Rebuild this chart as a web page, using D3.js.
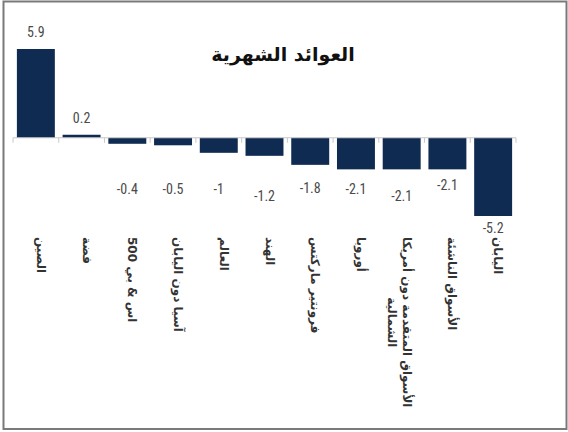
<!DOCTYPE html>
<html>
<head>
<meta charset="utf-8">
<script src="https://cdn.jsdelivr.net/npm/d3@7"></script>
<style>
  body { margin: 0; background: #fff; }
  svg { display: block; }
</style>
</head>
<body>
<svg id="chart" width="568" height="432"></svg>
<script>
// البيانات
const categories = ['الصين', 'فضة', 'اس & بي 500', 'آسيا دون اليابان', 'العالم', 'الهند',
  'فرونتير ماركتس', 'أوروبا', 'الأسواق المتقدمة دون أمريكا|الشمالية', 'الأسواق الناشئة', 'اليابان']
const values = [5.9, 0.2, -0.4, -0.5, -1, -1.2, -1.8, -2.1, -2.1, -2.1, -5.2]
const title = 'العوائد الشهرية'

const svg = d3.select('#chart')
const width = 568

// الإطار
svg.append('rect')
  .attr('x', 3.5).attr('y', 1.5)
  .attr('width', width - 5).attr('height', 427.5)
  .attr('fill', 'none')
  .attr('stroke', '#7a7a7a')
  .attr('stroke-width', 2)

const x = d3.scaleBand()
  .domain(categories)
  .range([13, 516])
  .paddingInner(0.17)
  .paddingOuter(0.085)

const y = d3.scaleLinear()
  .domain([-5.2, 5.9])
  .range([216, 49])

const barColor = '#0f2b52'

// الأعمدة
svg.selectAll('rect.bar')
  .data(values)
  .enter().append('rect')
  .attr('class', 'bar')
  .attr('x', (d, i) => x(categories[i]))
  .attr('y', d => y(Math.max(0, d)))
  .attr('width', x.bandwidth())
  .attr('height', d => Math.abs(y(d) - y(0)))
  .attr('fill', barColor)

// المحور
const axisY = y(0)
svg.append('line')
  .attr('x1', 13).attr('x2', 516)
  .attr('y1', axisY).attr('y2', axisY)
  .attr('stroke', '#c8c8c8')
  .attr('stroke-width', 1)

const tickXs = categories.map(c => x(c) - x.step() * x.paddingInner() / 2)
tickXs.push(516)
svg.selectAll('line.tick')
  .data(tickXs)
  .enter().append('line')
  .attr('class', 'tick')
  .attr('x1', d => d).attr('x2', d => d)
  .attr('y1', axisY).attr('y2', axisY + 5)
  .attr('stroke', '#c8c8c8')

// قيم الأعمدة
const labelOffsets = [0, 0, 0, 0, 0, 7, -1, 0, 7, -4, 0]
svg.selectAll('text.value')
  .data(values)
  .enter().append('text')
  .attr('class', 'value')
  .attr('x', (d, i) => x(categories[i]) + x.bandwidth() / 2)
  .attr('y', (d, i) => d >= 0 ? y(d) - 12 : y(Math.min(d, -2.1)) + 25 + labelOffsets[i] - (d < -2.1 ? 8 : 0))
  .attr('text-anchor', 'middle')
  .attr('font-family', '"Liberation Sans Narrow", "Roboto", sans-serif')
  .attr('font-stretch', 'condensed')
  .attr('font-size', '14px')
  .attr('fill', '#4a4a4a')
  .text(d => d)

// أسماء الفئات
const labelGroups = svg.selectAll('g.cat')
  .data(categories)
  .enter().append('g')
  .attr('class', 'cat')
  .attr('transform', d => `translate(${x(d) + x.bandwidth() / 2 + 1}, 237) rotate(90)`)

labelGroups.each(function (d) {
  const lines = d.split('|')
  const g = d3.select(this)
  const first = g.append('text')
    .attr('x', 0)
    .attr('y', 0)
    .attr('font-family', '"DejaVu Sans", sans-serif')
    .attr('font-weight', 'bold')
    .attr('font-size', '12px')
    .attr('fill', '#333')
    .text(lines[0])
  if (lines.length > 1) {
    const w = first.node().getComputedTextLength()
    g.append('text')
      .attr('x', w / 2)
      .attr('y', 15)
      .attr('text-anchor', 'middle')
      .attr('font-family', '"DejaVu Sans", sans-serif')
      .attr('font-weight', 'bold')
      .attr('font-size', '12px')
      .attr('fill', '#333')
      .text(lines[1])
  }
})

// العنوان
svg.append('text')
  .attr('x', 283)
  .attr('y', 61)
  .attr('text-anchor', 'middle')
  .attr('font-family', '"DejaVu Sans", sans-serif')
  .attr('font-weight', 'bold')
  .attr('font-size', '19px')
  .attr('fill', '#111')
  .text(title)
</script>
</body>
</html>
